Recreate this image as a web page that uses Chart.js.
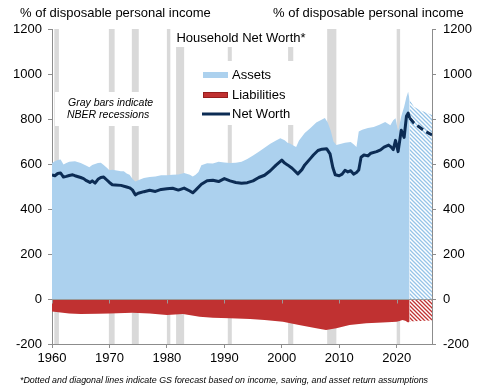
<!DOCTYPE html>
<html>
<head>
<meta charset="utf-8">
<script src="https://cdn.jsdelivr.net/npm/chart.js@4.4.0/dist/chart.umd.min.js"></script>
<style>
html, body { margin: 0; padding: 0; background: #fff; }
</style>
</head>
<body>
<canvas id="netWorthChart" width="480" height="392"></canvas>
<script>
// household balance sheet, % of disposable personal income
var assetYears = [1960, 1960.5, 1961, 1961.5, 1962, 1962.5, 1963, 1964, 1965, 1966, 1966.5, 1967, 1968, 1968.5, 1969, 1969.5,
  1970, 1970.5, 1971, 1972, 1972.5, 1973, 1973.5, 1974, 1974.5, 1975, 1976, 1977, 1978, 1979, 1980, 1981, 1982, 1983,
  1984, 1984.5, 1985, 1985.5, 1986, 1987, 1988, 1989, 1990, 1991, 1992, 1993, 1994, 1995, 1996, 1997, 1998, 1999,
  1999.75, 2000.5, 2001, 2001.5, 2002, 2002.5, 2003, 2004, 2005, 2006, 2007, 2007.5, 2008, 2008.5, 2009, 2009.5,
  2010, 2011, 2012, 2012.5, 2013, 2013.4, 2014, 2015, 2016, 2017, 2018, 2018.9, 2019.4, 2019.8, 2020.25, 2020.8,
  2021.3, 2021.7, 2022.0, 2022.25];
var assetValues = [604, 612, 618, 620, 598, 605, 610, 612, 605, 592, 586, 596, 604, 606, 596, 585,
  572, 575, 572, 568, 568, 558, 552, 535, 522, 528, 538, 542, 545, 550, 550, 552, 553, 560,
  552, 545, 552, 565, 595, 603, 602, 610, 607, 605, 606, 610, 622, 638, 655, 672, 690, 704,
  714, 706, 695, 690, 682, 676, 705, 738, 760, 784, 798, 804, 785, 750, 700, 684,
  688, 694, 698, 688, 676, 745, 752, 760, 765, 775, 787, 772, 795, 803, 745, 812,
  855, 898, 921, 884];
var assetFcYears = [2022.25, 2023, 2024, 2025, 2026.15];
var assetFcValues = [884, 855, 840, 830, 818];

var liabYears = [1960, 1963, 1965, 1968, 1970, 1974, 1977, 1980, 1982.8, 1985.7, 1988, 1991, 1994.5, 1997,
  2000.2, 2003, 2006, 2007.7, 2009.5, 2011.8, 2014.7, 2017.5, 2020, 2020.5, 2021, 2021.5, 2022, 2022.25];
var liabValues = [-56, -64, -67, -66, -64, -61, -64, -71, -67, -79, -83, -86, -89, -93,
  -101, -116, -130, -138, -130, -116, -108, -104, -101, -98, -93, -97, -104, -100];
var liabFcYears = [2022.25, 2023, 2024, 2025, 2026.15];
var liabFcValues = [-100, -99, -98, -97, -96];

var nwYears = [1960, 1960.5, 1961, 1961.5, 1962, 1962.5, 1963, 1963.6, 1964, 1965, 1965.5, 1966, 1966.6, 1967,
  1967.5, 1968, 1968.5, 1969, 1969.5, 1970, 1970.5, 1971, 1972, 1973, 1973.5, 1974, 1974.5, 1975, 1976, 1977,
  1978, 1979, 1980, 1981, 1982, 1983, 1984, 1984.5, 1985, 1986, 1987, 1988, 1989, 1990, 1991, 1992, 1993, 1994,
  1995, 1996, 1997, 1998, 1999, 2000, 2000.5, 2001, 2001.8, 2002.8, 2003.5, 2004, 2005, 2005.5, 2006.3, 2007,
  2007.8, 2008.4, 2008.9, 2009.3, 2010, 2010.5, 2011, 2011.5, 2012, 2012.5, 2013, 2013.4, 2013.8, 2014.3, 2015,
  2015.5, 2016.5, 2017.2, 2017.8, 2018.6, 2019.0, 2019.4, 2019.8, 2020.25, 2020.8, 2021.3, 2021.7, 2022.0, 2022.25];
var nwValues = [551, 548, 558, 560, 542, 545, 549, 552, 548, 540, 535, 526, 518, 525,
  515, 532, 540, 542, 530, 518, 508, 507, 505, 498, 494, 485, 463, 470, 477, 483,
  478, 487, 490, 492, 484, 493, 480, 472, 484, 510, 526, 528, 522, 535, 525, 518, 514, 517,
  525, 540, 550, 570, 595, 617, 604, 596, 581, 556, 575, 596, 625, 640, 660, 666,
  668, 645, 583, 552, 548, 555, 572, 565, 570, 555, 562, 573, 630, 640, 636,
  648, 655, 663, 675, 684, 676, 664, 705, 655, 750, 718, 812, 826, 805];
var nwFcYears = [2022.25, 2023, 2024, 2025, 2026.15];
var nwFcValues = [805, 782, 763, 745, 729];

var recessionStarts = [1960.4, 1969.9, 1973.9, 1980.0, 1981.6, 1990.6, 2001.1, 2007.9, 2020.0];
var recessionEnds = [1961.2, 1970.9, 1975.1, 1980.6, 1983.0, 1991.3, 2002.0, 2009.5, 2020.6];

var yTicks = [-200, 0, 200, 400, 600, 800, 1000, 1200];
var xTicks = [1960, 1970, 1980, 1990, 2000, 2010, 2020];

var BLUE = 'rgb(172, 209, 238)';
var RED = 'rgb(192, 49, 49)';
var NAVY = 'rgb(12, 44, 84)';
var FONT = '"Liberation Sans", Arial, sans-serif';

function pts(xs, ys) {
  return xs.map(function (v, i) { return { x: v, y: ys[i] }; });
}

function hatch(color) {
  var c = document.createElement('canvas');
  c.width = 4; c.height = 4;
  var g = c.getContext('2d');
  g.fillStyle = '#fff';
  g.fillRect(0, 0, 4, 4);
  g.strokeStyle = color;
  g.lineWidth = 1.3;
  g.beginPath();
  g.moveTo(-1, -1); g.lineTo(5, 5);
  g.moveTo(-1, 3); g.lineTo(1, 5);
  g.moveTo(3, -1); g.lineTo(5, 1);
  g.stroke();
  return g.createPattern(c, 'repeat');
}

Chart.defaults.font.family = FONT;
Chart.defaults.font.size = 13;
Chart.defaults.color = '#000';

var decor = {
  id: 'decor',
  beforeDatasetsDraw: function (chart) {
    var ctx = chart.ctx, a = chart.chartArea, x = chart.scales.x;
    ctx.save();
    ctx.fillStyle = 'rgb(217, 217, 217)';
    for (var i = 0; i < recessionStarts.length; i++) {
      var x0 = x.getPixelForValue(recessionStarts[i]);
      var x1 = x.getPixelForValue(recessionEnds[i]);
      ctx.fillRect(x0, a.top, Math.max(x1 - x0, 3), a.bottom - a.top);
    }
    // white boxes behind title, note and legend
    ctx.fillStyle = '#fff';
    ctx.fillRect(a.left + 120, a.top, 138, 18);
    ctx.fillRect(a.left + 3, a.top + 63, 106, 34);
    ctx.fillRect(a.left + 144, a.top + 32, 122, 64);

    ctx.fillStyle = '#000';
    ctx.textBaseline = 'middle';
    ctx.textAlign = 'center';
    ctx.font = '13px ' + FONT;
    ctx.fillText('Household Net Worth*', a.left + 189, a.top + 9);

    ctx.textAlign = 'left';
    ctx.font = 'italic 10.5px ' + FONT;
    ctx.fillText('Gray bars indicate', a.left + 16, a.top + 74);
    ctx.fillText('NBER recessions', a.left + 15, a.top + 86);

    // legend
    var lx = a.left + 151;
    ctx.fillStyle = BLUE;
    ctx.fillRect(lx, a.top + 43, 25, 6);
    ctx.fillStyle = RED;
    ctx.fillRect(lx, a.top + 63, 25, 6);
    ctx.strokeStyle = 'rgb(150, 30, 30)';
    ctx.lineWidth = 1;
    ctx.strokeRect(lx + 0.5, a.top + 63.5, 24, 5);
    ctx.strokeStyle = NAVY;
    ctx.lineWidth = 3;
    ctx.beginPath();
    ctx.moveTo(lx - 1, a.top + 85);
    ctx.lineTo(lx + 27, a.top + 85);
    ctx.stroke();
    ctx.fillStyle = '#000';
    ctx.font = '13px ' + FONT;
    ctx.fillText('Assets', lx + 29, a.top + 46);
    ctx.fillText('Liabilities', lx + 29, a.top + 66);
    ctx.fillText('Net Worth', lx + 29, a.top + 85);
    ctx.restore();
  },
  afterDatasetsDraw: function (chart) {
    var ctx = chart.ctx, a = chart.chartArea, x = chart.scales.x, y = chart.scales.y;
    var y0 = Math.round(y.getPixelForValue(0)) + 0.5;
    ctx.save();
    ctx.strokeStyle = '#9a9a9a';
    ctx.lineWidth = 1;
    ctx.beginPath();
    ctx.moveTo(a.left, y0);
    ctx.lineTo(a.right, y0);
    xTicks.forEach(function (t) {
      var px = Math.round(x.getPixelForValue(t)) + 0.5;
      ctx.moveTo(px, y0);
      ctx.lineTo(px, y0 + 4);
    });
    ctx.stroke();
    ctx.restore();
  },
  afterDraw: function (chart) {
    var ctx = chart.ctx;
    ctx.save();
    ctx.fillStyle = '#000';
    ctx.textBaseline = 'middle';
    ctx.textAlign = 'left';
    ctx.font = '13px ' + FONT;
    ctx.fillText('% of disposable personal income', 20, 13);
    ctx.fillText('% of disposable personal income', 273, 13);
    ctx.font = 'italic 8.9px ' + FONT;
    ctx.fillText('*Dotted and diagonal lines indicate GS forecast based on income, saving, and asset return assumptions', 20, 381);
    ctx.restore();
  }
};

function yAxis(pos, width, pad) {
  return {
    type: 'linear',
    position: pos,
    min: -200,
    max: 1200,
    afterFit: function (s) { s.width = width; },
    afterBuildTicks: function (s) { s.ticks = yTicks.map(function (v) { return { value: v }; }); },
    ticks: { padding: pad, callback: function (v) { return String(v); } },
    grid: { drawOnChartArea: false, drawTicks: true, tickLength: 4, color: '#8c8c8c' },
    border: { color: '#8c8c8c' }
  };
}

new Chart(document.getElementById('netWorthChart'), {
  type: 'line',
  data: {
    datasets: [
      { label: 'Net Worth', data: pts(nwYears, nwValues), fill: false, borderColor: NAVY,
        borderWidth: 3, pointRadius: 0, borderJoinStyle: 'round', order: 1 },
      { label: 'Net Worth forecast', data: pts(nwFcYears, nwFcValues), fill: false, borderColor: NAVY,
        borderWidth: 3, borderDash: [7, 4], pointRadius: 0, order: 1 },
      { label: 'Assets', data: pts(assetYears, assetValues), fill: 'origin', backgroundColor: BLUE,
        borderWidth: 0, pointRadius: 0, order: 2 },
      { label: 'Assets forecast', data: pts(assetFcYears, assetFcValues), fill: 'origin',
        backgroundColor: hatch('rgb(150, 196, 232)'), borderWidth: 0, pointRadius: 0, order: 2 },
      { label: 'Liabilities', data: pts(liabYears, liabValues), fill: 'origin', backgroundColor: RED,
        borderWidth: 0, pointRadius: 0, order: 2 },
      { label: 'Liabilities forecast', data: pts(liabFcYears, liabFcValues), fill: 'origin',
        backgroundColor: hatch(RED), borderWidth: 0, pointRadius: 0, order: 2 }
    ]
  },
  options: {
    responsive: false,
    animation: false,
    devicePixelRatio: 1,
    layout: { padding: { top: 29, left: 0, right: 0, bottom: 0 } },
    plugins: { legend: { display: false }, tooltip: { enabled: false } },
    scales: {
      x: {
        type: 'linear',
        min: 1960,
        max: 2026.15,
        afterFit: function (s) { s.height = 48; },
        afterBuildTicks: function (s) { s.ticks = xTicks.map(function (v) { return { value: v }; }); },
        ticks: { padding: 3, maxRotation: 0, autoSkip: false, callback: function (v) { return String(v); } },
        grid: { drawOnChartArea: false, drawTicks: true, tickLength: 4, color: '#8c8c8c' },
        border: { color: '#8c8c8c' }
      },
      y: yAxis('left', 52, 6),
      y2: yAxis('right', 48, 7)
    }
  },
  plugins: [decor]
});
</script>
</body>
</html>
